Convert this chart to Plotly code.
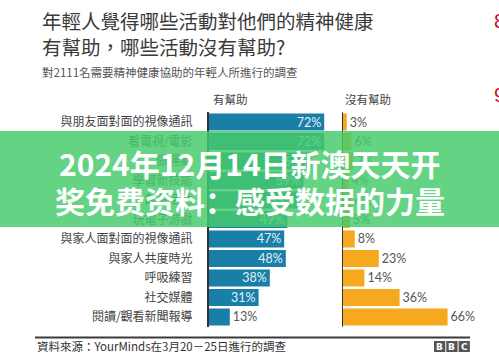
import plotly.graph_objects as go

W, H = 499, 358

categories = [
    "與朋友面對面的視像通訊", "看電視/電影", "做運動", "學習新技能", "創意活動",
    "玩電子游戲", "與家人面對面的視像通訊", "與家人共度時光", "呼吸練習",
    "社交媒體", "閱讀/觀看新聞報導",
]
helpful = [72, 72, 64, 59, 55, 49, 47, 48, 38, 31, 13]
not_helpful = [3, 6, 7, 4, 6, 5, 8, 23, 14, 36, 66]

title_lines = ["年輕人覺得哪些活動對他們的精神健康", "有幫助，哪些活動沒有幫助?"]
subtitle = "對2111名需要精神健康協助的年輕人所進行的調查"
col_headers = ["有幫助", "沒有幫助"]
source = "資料來源：YourMinds在3月20－25日進行的調查"
banner_lines = ["2024年12月14日新澳天天开", "奖免费资料：感受数据的力量"]

BLUE = "#1a7fa8"
ORANGE = "#f6a91e"
FONT = "Noto Sans CJK TC"

def px(x):
    return x / W

def py(y):
    return 1 - y / H

PXPCT = 1.6
X1, X2, XR = 209, 342, 499

fig = go.Figure()
fig.add_trace(go.Bar(
    y=categories, x=helpful, orientation="h", xaxis="x", yaxis="y",
    marker=dict(color=BLUE, line=dict(width=0)),
    text=[f"{v}%" for v in helpful],
    textposition=["inside" if v >= 20 else "outside" for v in helpful],
    insidetextanchor="end",
    insidetextfont=dict(color="#e3f1f7", size=12.5, family="Lato"),
    outsidetextfont=dict(color="#555555", size=12.5, family="Lato"),
    constraintext="none", cliponaxis=False, showlegend=False,
))
fig.add_trace(go.Bar(
    y=categories, x=not_helpful, orientation="h", xaxis="x2", yaxis="y",
    marker=dict(color=ORANGE, line=dict(width=0)),
    text=[f"{v}%" for v in not_helpful], textposition="outside",
    outsidetextfont=dict(color="#555555", size=12.5, family="Lato"),
    constraintext="none", cliponaxis=False, showlegend=False,
))

ytop, ybot = 112.3, 326.7
fig.update_layout(
    width=W, height=H, margin=dict(l=0, r=0, t=0, b=0),
    paper_bgcolor="white", plot_bgcolor="white",
    bargap=0.12,
    font=dict(family=FONT, color="#444444"),
    xaxis=dict(domain=[px(X1), px(X2)], range=[0, (X2 - X1) / PXPCT],
               visible=False, fixedrange=True),
    xaxis2=dict(domain=[px(X2), px(XR)], range=[0, (XR - X2) / PXPCT],
                visible=False, fixedrange=True, anchor="y"),
    yaxis=dict(domain=[py(ybot), py(ytop)], categoryorder="array",
               categoryarray=categories, autorange="reversed",
               showline=True, linecolor="#333333", linewidth=2,
               ticks="", ticklabelstandoff=12, showgrid=False, fixedrange=True,
               tickfont=dict(size=12, color="#444444", family=FONT)),
)

# right panel baseline
fig.add_shape(type="line", xref="x2", yref="y domain", x0=0, x1=0, y0=0, y1=1,
              line=dict(color="#333333", width=2))

ann = []
ann.append(dict(x=px(40), y=py(21), text=title_lines[0], xanchor="left", yanchor="middle",
                font=dict(size=19.5, color="#3a3a3a", family=FONT)))
ann.append(dict(x=px(40), y=py(46.5), text=title_lines[1], xanchor="left", yanchor="middle",
                font=dict(size=19.5, color="#3a3a3a", family=FONT)))
ann.append(dict(x=px(40), y=py(71.5), text=subtitle, xanchor="left", yanchor="middle",
                font=dict(size=11.5, color="#555555", family=FONT)))
ann.append(dict(x=px(211), y=py(99), text=col_headers[0], xanchor="left", yanchor="middle",
                font=dict(size=11.5, color="#444444", family=FONT)))
ann.append(dict(x=px(343), y=py(99), text=col_headers[1], xanchor="left", yanchor="middle",
                font=dict(size=11.5, color="#444444", family=FONT)))
ann.append(dict(x=px(35), y=py(346), text=source, xanchor="left", yanchor="middle",
                font=dict(size=11.5, color="#333333", family=FONT)))

# footer rule
fig.add_shape(type="line", xref="paper", yref="paper", x0=px(35), x1=px(470),
              y0=py(337.5), y1=py(337.5), line=dict(color="#3a3a3a", width=2))

# BBC blocks
for i, letter in enumerate("BBC"):
    x0 = 434 + i * 12.3
    fig.add_shape(type="rect", xref="paper", yref="paper", x0=px(x0), x1=px(x0 + 11.3),
                  y0=py(352), y1=py(341), fillcolor="#555555", line=dict(width=0))
    ann.append(dict(x=px(x0 + 5.65), y=py(346.5), text=f"<b>{letter}</b>", xanchor="center",
                    yanchor="middle", font=dict(size=9, color="white", family="DejaVu Sans")))

# clipped marks at right edge (partly outside the frame in the reference)
ann.append(dict(x=px(492), y=py(21), text="8", xanchor="left", yanchor="middle",
                font=dict(size=20, color="#c8102e", family="Liberation Sans")))
ann.append(dict(x=px(492), y=py(95), text="9", xanchor="left", yanchor="middle",
                font=dict(size=20, color="#c8102e", family="Liberation Sans")))

# overlay banner
fig.add_shape(type="rect", xref="paper", yref="paper", x0=0, x1=1, y0=py(227), y1=py(131),
              fillcolor="rgba(70,202,108,0.84)", line=dict(width=0), layer="above")
ann.append(dict(x=px(250), y=py(163), text=f"<b>{banner_lines[0]}</b>", xanchor="center",
                yanchor="middle", font=dict(size=30, color="white", family="Noto Sans CJK SC")))
ann.append(dict(x=px(250), y=py(200), text=f"<b>{banner_lines[1]}</b>", xanchor="center",
                yanchor="middle", font=dict(size=30, color="white", family="Noto Sans CJK SC")))

for a in ann:
    a.update(xref="paper", yref="paper", showarrow=False)
fig.update_layout(annotations=ann)

fig.write_html("out.html", config={"displayModeBar": False, "staticPlot": True},
               post_script="document.body.style.margin='0';document.body.style.overflow='hidden';")
